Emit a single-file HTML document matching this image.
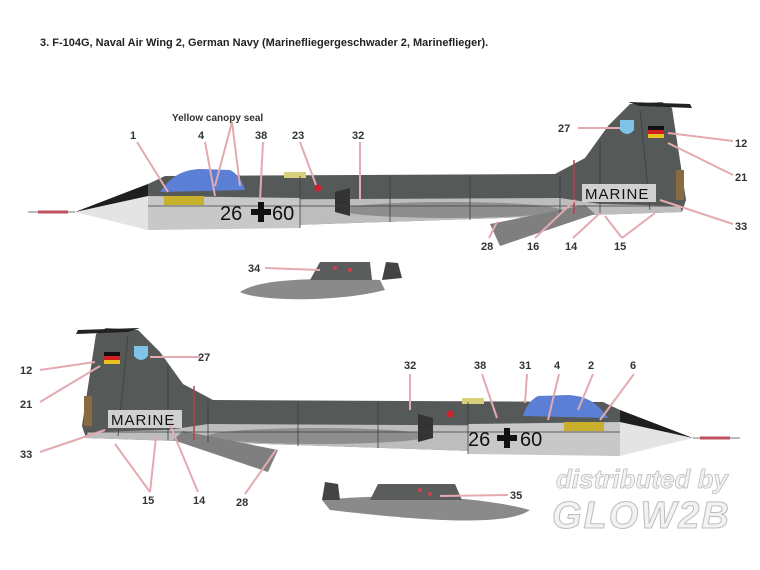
<!DOCTYPE html>
<html><head><meta charset="utf-8"><style>
html,body{margin:0;padding:0;background:#fff;}
svg{display:block;}
text{font-family:"Liberation Sans",sans-serif;}
.n{font-size:11px;font-weight:bold;fill:#333;}
.l{stroke:#e3aab0;stroke-width:2;fill:none;}
</style></head><body>
<svg width="760" height="570" viewBox="0 0 760 570" xmlns="http://www.w3.org/2000/svg">
<rect width="760" height="570" fill="#fff"/>
<text x="40" y="46" font-size="11" font-weight="bold" fill="#222">3. F-104G, Naval Air Wing 2, German Navy (Marinefliegergeschwader 2, Marineflieger).</text>

<defs>
<g id="plane">
  <line x1="28" y1="212" x2="75" y2="212" stroke="#bbb" stroke-width="2"/>
  <line x1="38" y1="212" x2="68" y2="212" stroke="#c05060" stroke-width="3"/>
  <polygon points="75,212 148,186 148,230" fill="#e4e4e4"/>
  <polygon points="75,212 148,184 148,196" fill="#1e1e1e"/>
  <polygon points="148,184 165,176 555,174 585,158 608,126 630,104 662,102 672,108 686,200 682,212 560,216 148,230" fill="#555958"/>
  <polygon points="628,102 690,104 692,108 640,106" fill="#222"/>
  <!-- lower light -->
  <polygon points="148,200 560,198 600,204 680,206 682,212 560,216 148,230" fill="#bdbdbd"/>
  <polygon points="148,196 300,198 300,228 148,230" fill="#c8c8c8"/>
  <ellipse cx="450" cy="210" rx="110" ry="8" fill="#8e8e8e"/>
  <polygon points="490,224 585,205 595,214 500,246" fill="#7f7f7f"/>
  <polygon points="335,192 350,188 350,216 335,212" fill="#333"/>
  <path d="M160,192 C170,178 180,170 200,169 L230,170 C238,174 243,182 245,190 Z" fill="#5c7fd6"/>
  <rect x="164" y="196" width="40" height="9" fill="#c8b02a"/>
  <rect x="284" y="172" width="22" height="6" fill="#d8d07a"/>
  <circle cx="318" cy="188" r="3.5" fill="#d02030"/>
  <rect x="648" y="126" width="16" height="4" fill="#111"/>
  <rect x="648" y="130" width="16" height="4" fill="#d02020"/>
  <rect x="648" y="134" width="16" height="4" fill="#e8c020"/>
  <path d="M620,120 h14 v10 q-7,8 -14,0 Z" fill="#7fc4e8"/>
  <g stroke="#3c3f3e" stroke-width="0.8" fill="none">
    <line x1="300" y1="176" x2="300" y2="228"/><line x1="390" y1="176" x2="390" y2="222"/>
    <line x1="470" y1="176" x2="470" y2="220"/><line x1="560" y1="176" x2="560" y2="216"/>
    <line x1="600" y1="140" x2="600" y2="214"/><line x1="640" y1="110" x2="650" y2="210"/>
    <line x1="148" y1="206" x2="680" y2="206"/>
  </g>
  <line x1="574" y1="160" x2="574" y2="214" stroke="#b04050" stroke-width="1.5"/>
  <rect x="676" y="170" width="8" height="30" fill="#8a6a40"/>
  <rect x="251" y="209" width="20" height="6" fill="#111"/>
  <rect x="258" y="202" width="6" height="20" fill="#111"/>
</g>
</defs>

<use href="#plane"/>
<use href="#plane" transform="translate(768,226) scale(-1,1)"/>

<rect x="582" y="184" width="74" height="18" fill="#d0d0d0"/>
<rect x="108" y="410" width="74" height="18" fill="#d0d0d0"/>
<text x="220" y="220" font-size="20" fill="#111">26</text>
<text x="272" y="220" font-size="20" fill="#111">60</text>
<text x="585" y="199" font-size="15" fill="#111" letter-spacing="1">MARINE</text>
<text x="468" y="446" font-size="20" fill="#111">26</text>
<text x="520" y="446" font-size="20" fill="#111">60</text>
<text x="111" y="425" font-size="15" fill="#111" letter-spacing="1">MARINE</text>

<g>
  <path d="M240,292 C260,278 320,278 380,280 L385,290 C340,302 260,302 240,292 Z" fill="#8a8a8a"/>
  <polygon points="310,280 320,262 370,262 372,280" fill="#5a5d5c"/>
  <polygon points="382,280 386,262 398,263 402,278" fill="#444"/>
  <circle cx="335" cy="268" r="2" fill="#d04050"/><circle cx="350" cy="270" r="2" fill="#d04050"/>
</g>
<g>
  <path d="M530,510 C510,524 450,524 330,510 L322,500 C380,494 470,494 530,510 Z" fill="#8a8a8a"/>
  <polygon points="370,500 378,484 455,484 462,500" fill="#5a5d5c"/>
  <polygon points="322,500 325,482 338,484 340,500" fill="#444"/>
  <circle cx="420" cy="490" r="2" fill="#d04050"/><circle cx="430" cy="494" r="2" fill="#d04050"/>
</g>

<g class="l">
  <line x1="137" y1="142" x2="168" y2="192"/>
  <line x1="232" y1="122" x2="215" y2="186"/><line x1="232" y1="122" x2="240" y2="186"/>
  <line x1="205" y1="142" x2="215" y2="196"/>
  <line x1="263" y1="142" x2="260" y2="200"/>
  <line x1="300" y1="142" x2="316" y2="185"/>
  <line x1="360" y1="142" x2="360" y2="200"/>
  <line x1="578" y1="128" x2="620" y2="128"/>
  <line x1="733" y1="141" x2="668" y2="133"/>
  <line x1="733" y1="175" x2="668" y2="143"/>
  <line x1="733" y1="224" x2="660" y2="200"/>
  <line x1="489" y1="238" x2="497" y2="222"/>
  <line x1="535" y1="238" x2="575" y2="200"/>
  <line x1="573" y1="238" x2="600" y2="213"/>
  <line x1="622" y1="238" x2="605" y2="216"/><line x1="622" y1="238" x2="655" y2="213"/>
  <line x1="265" y1="268" x2="320" y2="270"/>
  <line x1="40" y1="370" x2="95" y2="362"/>
  <line x1="40" y1="402" x2="100" y2="366"/>
  <line x1="200" y1="357" x2="150" y2="357"/>
  <line x1="40" y1="452" x2="105" y2="430"/>
  <line x1="150" y1="492" x2="115" y2="444"/><line x1="150" y1="492" x2="156" y2="437"/>
  <line x1="198" y1="492" x2="170" y2="425"/>
  <line x1="245" y1="494" x2="276" y2="450"/>
  <line x1="410" y1="374" x2="410" y2="410"/>
  <line x1="482" y1="374" x2="497" y2="418"/>
  <line x1="527" y1="374" x2="525" y2="403"/>
  <line x1="559" y1="374" x2="548" y2="420"/>
  <line x1="593" y1="374" x2="578" y2="410"/>
  <line x1="634" y1="374" x2="600" y2="420"/>
  <line x1="508" y1="495" x2="440" y2="496"/>
</g>

<text x="172" y="121" font-size="10" font-weight="bold" fill="#333">Yellow canopy seal</text>
<text class="n" x="130" y="139">1</text>
<text class="n" x="198" y="139">4</text>
<text class="n" x="255" y="139">38</text>
<text class="n" x="292" y="139">23</text>
<text class="n" x="352" y="139">32</text>
<text class="n" x="558" y="132">27</text>
<text class="n" x="735" y="147">12</text>
<text class="n" x="735" y="181">21</text>
<text class="n" x="735" y="230">33</text>
<text class="n" x="481" y="250">28</text>
<text class="n" x="527" y="250">16</text>
<text class="n" x="565" y="250">14</text>
<text class="n" x="614" y="250">15</text>
<text class="n" x="248" y="272">34</text>
<text class="n" x="20" y="374">12</text>
<text class="n" x="20" y="408">21</text>
<text class="n" x="198" y="361">27</text>
<text class="n" x="20" y="458">33</text>
<text class="n" x="142" y="504">15</text>
<text class="n" x="193" y="504">14</text>
<text class="n" x="236" y="506">28</text>
<text class="n" x="404" y="369">32</text>
<text class="n" x="474" y="369">38</text>
<text class="n" x="519" y="369">31</text>
<text class="n" x="554" y="369">4</text>
<text class="n" x="588" y="369">2</text>
<text class="n" x="630" y="369">6</text>
<text class="n" x="510" y="499">35</text>

<text x="556" y="488" font-size="26" font-style="italic" font-weight="bold" fill="#f2f2f2" stroke="#bdbdbd" stroke-width="0.8">distributed by</text>
<text x="552" y="528" font-size="38" font-style="italic" font-weight="bold" fill="#f2f2f2" stroke="#bdbdbd" stroke-width="1" letter-spacing="2">GLOW2B</text>
</svg>
</body></html>
